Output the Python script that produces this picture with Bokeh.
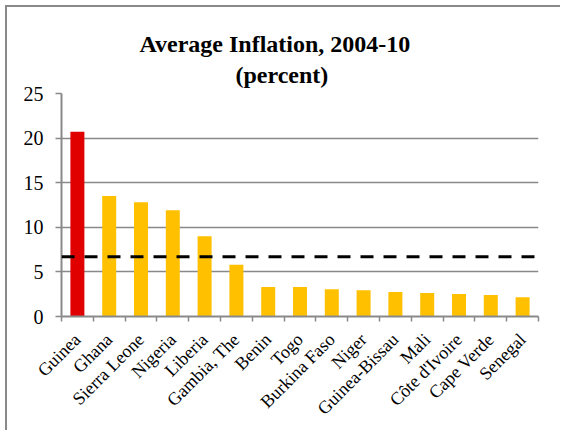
import math
import numpy as np
from bokeh.plotting import figure
from bokeh.models import Range1d, FixedTicker, Span, Title
from bokeh.embed import file_html
from bokeh.resources import INLINE

countries = ["Guinea", "Ghana", "Sierra Leone", "Nigeria", "Liberia", "Gambia, The",
             "Benin", "Togo", "Burkina Faso", "Niger", "Guinea-Bissau", "Mali",
             "Côte d'Ivoire", "Cape Verde", "Senegal"]
inflation = [20.7, 13.5, 12.8, 11.9, 9.0, 5.8, 3.3, 3.3, 3.05, 2.93, 2.75, 2.63, 2.52, 2.4, 2.15]
average_inflation = 6.7
highlight = "Guinea"
y_ticks = [0, 5, 10, 15, 20, 25]

FONT = "Liberation Serif"
GRAY = "#898989"

n = len(countries)
xs = list(range(1, n + 1))
colors = ["#E00000" if c == highlight else "#FFC000" for c in countries]

p = figure(width=555, height=425, output_backend="svg", toolbar_location=None,
           x_range=Range1d(0.5, n + 0.5), y_range=Range1d(0, 25),
           min_border_left=54, min_border_right=24, min_border_top=86, min_border_bottom=116)
p.styles = {"margin-left": "5px", "margin-top": "5px",
            "border-left": "2px solid " + GRAY, "border-top": "2px solid " + GRAY}
p.outline_line_color = None
p.background_fill_color = "white"
p.border_fill_color = "white"

p.vbar(x=xs, top=inflation, width=0.44, fill_color=colors, line_color=None)

p.add_layout(Span(location=average_inflation, dimension="width", line_color="black",
                  line_width=3, line_dash="13 10"))

# x axis
p.xaxis.ticker = FixedTicker(ticks=xs, minor_ticks=[i + 0.5 for i in range(0, n + 1)])
p.xaxis.major_label_overrides = {x: c for x, c in zip(xs, countries)}
p.xaxis.major_label_orientation = math.pi / 4
p.xaxis.major_tick_line_color = None
p.xaxis.minor_tick_line_color = GRAY
p.xaxis.minor_tick_line_width = 1.5
p.xaxis.minor_tick_in = 0
p.xaxis.minor_tick_out = 5
p.xaxis.axis_line_color = GRAY
p.xaxis.axis_line_width = 2
p.xaxis.major_label_text_font = FONT
p.xaxis.major_label_text_font_size = "18px"
p.xaxis.major_label_text_color = "black"
p.xaxis.major_label_standoff = 14
p.xgrid.grid_line_color = None

# y axis
p.yaxis.ticker = FixedTicker(ticks=y_ticks)
p.yaxis.major_tick_in = 0
p.yaxis.major_tick_out = 6
p.yaxis.major_tick_line_color = GRAY
p.yaxis.major_tick_line_width = 1.5
p.yaxis.minor_tick_line_color = None
p.yaxis.axis_line_color = GRAY
p.yaxis.axis_line_width = 2
p.yaxis.major_label_text_font = FONT
p.yaxis.major_label_text_font_size = "20px"
p.yaxis.major_label_text_color = "black"
p.yaxis.major_label_standoff = 12
p.ygrid.grid_line_color = GRAY
p.ygrid.grid_line_width = 1.5

p.add_layout(Title(text="(percent)", align="left", offset=174, text_font=FONT,
                   text_font_size="24px", text_font_style="bold", text_color="black",
                   standoff=12), "above")
p.add_layout(Title(text="Average Inflation, 2004-10", align="left", offset=78, text_font=FONT,
                   text_font_size="24px", text_font_style="bold", text_color="black",
                   standoff=-6), "above")

open("out.html", "w").write(file_html(p, INLINE))
